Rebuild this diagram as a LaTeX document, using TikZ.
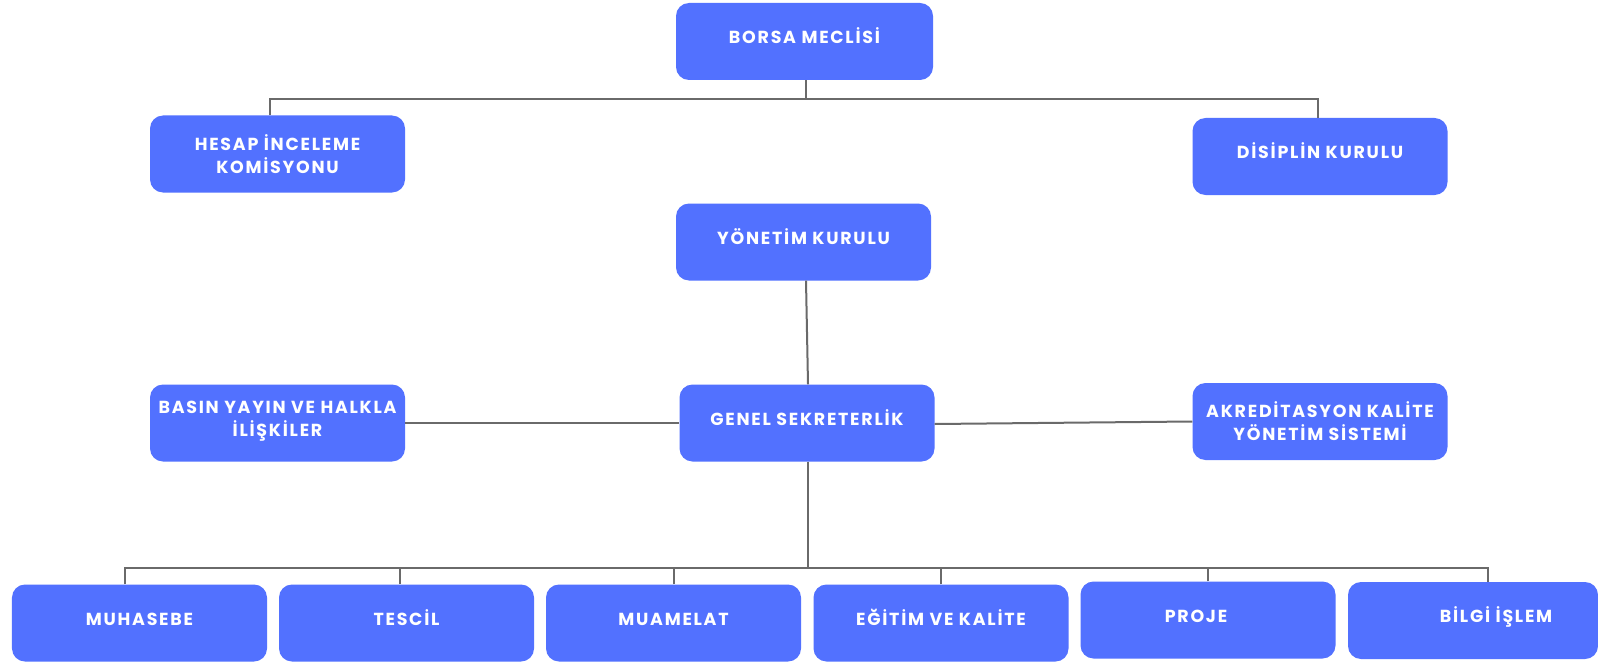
\documentclass[tikz,border=0pt]{standalone}
\usepackage{fontspec}
\setmainfont{Poppins}[LetterSpace=10]
\definecolor{boxblue}{HTML}{5271FF}
\definecolor{linegray}{HTML}{6A6A6A}
\begin{document}
\begin{tikzpicture}[x=1bp,y=-1bp,
  box/.style={fill=boxblue, rounded corners=13bp, text=white,
    font=\bfseries\fontsize{17.5}{23}\selectfont, align=center, inner sep=0pt,
    minimum width=255bp, minimum height=77bp},
  oneline/.style={box, text height=13bp, text depth=9bp},
  conn/.style={draw=linegray, line width=2bp}]
\useasboundingbox[fill=white] (0,0) rectangle (1598,663);

\node[oneline, minimum width=257bp] (borsa) at (804.5,41.5) {BORSA MECLİSİ};
\node[box] (hesap) at (277.5,154) {HESAP İNCELEME\\KOMİSYONU};
\node[oneline] (disiplin) at (1320,156.5) {DİSİPLİN KURULU};
\node[oneline] (yonetim) at (803.5,242) {YÖNETİM KURULU};
\node[oneline] (genel) at (807,423) {GENEL SEKRETERLİK};
\node[box] (basin) at (277.5,423) {BASIN YAYIN VE HALKLA\\İLİŞKİLER\rule[-8bp]{0pt}{1bp}};
\node[box] (akred) at (1320,421.5) {AKREDİTASYON KALİTE\\YÖNETİM SİSTEMİ};

\node[oneline] (muhasebe) at (139.5,623) {MUHASEBE};
\node[oneline] (tescil) at (406.5,623) {TESCİL};
\node[oneline] (muamelat) at (673.5,623) {MUAMELAT};
\node[oneline] (egitim) at (941,623) {EĞİTİM VE KALİTE};
\node[oneline] (proje) at (1208,620) {PROJE\hspace*{24bp}};
\node[oneline, minimum width=250bp] (bilgi) at (1473,620.5) {\hspace*{46bp}BİLGİ İŞLEM};

% top level connectors
\coordinate (t1) at (806,99);
\draw[conn] ([xshift=1.5bp]borsa.south) -- (t1);
\draw[conn] ([xshift=-7.5bp]hesap.north) |- (t1) -| ([xshift=-2bp]disiplin.north);

% yonetim -> genel
\draw[conn] ([xshift=2.5bp]yonetim.south) -- ([xshift=1bp]genel.north);

% side connectors
\draw[conn] (basin.east) -- (genel.west);
\draw[conn] ([yshift=-1bp]genel.east) -- (akred.west);

% bottom tree
\coordinate (b0) at (808,568);
\draw[conn] ([xshift=1bp]genel.south) -- (b0);
\draw[conn] ([xshift=-14.5bp]muhasebe.north) |- (b0) -| ([xshift=15bp]bilgi.north);
\draw[conn] ([xshift=-6.5bp]tescil.north) -- ([xshift=-6.5bp]tescil.north |- b0);
\draw[conn] (muamelat.north) -- (muamelat.north |- b0);
\draw[conn] (egitim.north) -- (egitim.north |- b0);
\draw[conn] (proje.north) -- (proje.north |- b0);
\end{tikzpicture}
\end{document}
